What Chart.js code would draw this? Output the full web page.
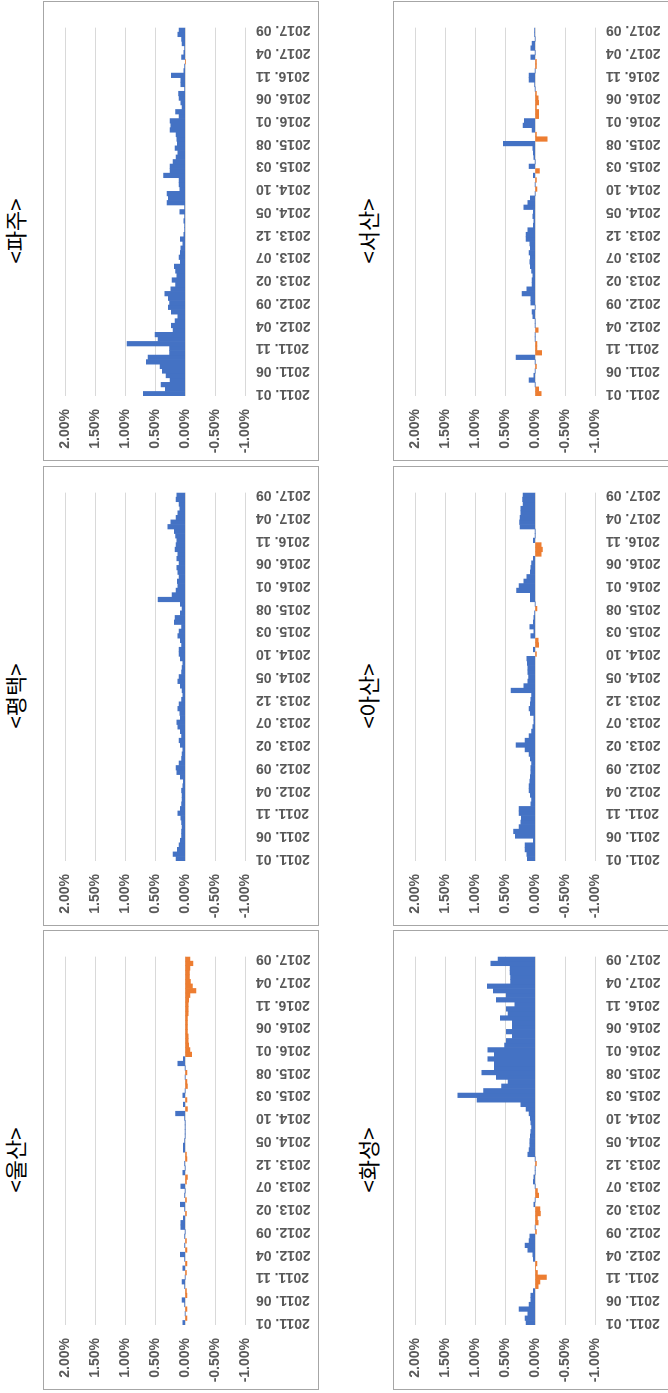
<!DOCTYPE html>
<html lang="ko">
<head>
<meta charset="utf-8">
<title>지역별 월간 변동률</title>
<script src="https://cdn.jsdelivr.net/npm/chart.js@4.4.1/dist/chart.umd.min.js"></script>
<style>
  html, body { margin: 0; padding: 0; background: #fff; }
  body { width: 668px; height: 1393px; overflow: hidden; position: relative; }
  /* the sheet is laid out landscape and turned a quarter turn to portrait */
  #stage {
    position: absolute; left: 0; top: 0;
    width: 1393px; height: 668px;
    transform-origin: 0 0;
    transform: translate(0, 1393px) rotate(-90deg);
  }
  .panel {
    position: absolute; width: 460px; height: 276px;
    border: 1px solid #a6a6a6; box-sizing: border-box; background: #fff;
  }
  .panel canvas { display: block; }
  .title {
    position: absolute; width: 460px; text-align: center;
    font-family: "Noto Sans CJK KR", "Noto Sans", sans-serif;
    font-size: 22px; line-height: 22px; color: #000;
  }
</style>
</head>
<body>
<div id="stage"></div>
<script>
// monthly change rates (%), 2011.01 – 2017.09
const ulsan = [
  0.04, -0.03, 0.00, -0.03, 0.01, 0.05, -0.03, -0.02, 0.01, 0.05,
  0.00, -0.02, 0.04, -0.03, 0.01, 0.08, -0.03, 0.01, -0.02, 0.01,
  0.00, 0.07, 0.07, 0.03, -0.02, 0.01, 0.08, -0.02, 0.01, 0.00,
  0.07, -0.02, -0.04, 0.04, 0.00, 0.01, -0.03, -0.02, 0.03, 0.03,
  0.01, 0.00, 0.00, 0.00, 0.00, 0.01, 0.16, -0.04, 0.03, -0.03,
  0.04, 0.00, -0.04, -0.03, 0.00, -0.03, 0.00, 0.12, 0.03, -0.11,
  -0.08, -0.06, -0.05, -0.05, -0.04, -0.04, -0.04, -0.04, -0.05, -0.05,
  -0.05, -0.06, -0.08, -0.18, -0.12, -0.09, -0.07, -0.07, -0.08, -0.13,
  -0.08
];
const pyeongtaek = [
  0.15, 0.20, 0.13, 0.10, 0.08, 0.06, 0.06, 0.05, 0.06, 0.07,
  0.12, 0.08, 0.06, 0.05, 0.05, 0.06, 0.04, 0.03, 0.08, 0.14,
  0.15, 0.10, 0.06, 0.05, 0.04, 0.08, 0.10, 0.06, 0.08, 0.12,
  0.14, 0.08, 0.09, 0.12, 0.10, 0.06, 0.04, 0.05, 0.08, 0.12,
  0.10, 0.06, 0.05, 0.04, 0.08, 0.10, 0.10, 0.06, 0.08, 0.12,
  0.10, 0.06, 0.18, 0.17, 0.08, 0.05, 0.08, 0.45, 0.22, 0.15,
  0.12, 0.13, 0.10, 0.12, 0.14, 0.10, 0.14, 0.12, 0.17, 0.15,
  0.14, 0.16, 0.18, 0.29, 0.24, 0.15, 0.12, 0.09, 0.10, 0.15,
  0.14
];
const paju = [
  0.70, 0.33, 0.40, 0.25, 0.32, 0.38, 0.42, 0.65, 0.62, 0.26,
  0.26, 0.97, 0.45, 0.50, 0.20, 0.23, 0.17, 0.12, 0.23, 0.28,
  0.26, 0.28, 0.34, 0.24, 0.16, 0.22, 0.14, 0.16, 0.18, 0.08,
  0.10, 0.08, 0.07, 0.04, 0.08, 0.02, 0.01, 0.01, 0.02, 0.01,
  0.09, 0.01, 0.30, 0.28, 0.30, 0.09, 0.10, 0.10, 0.36, 0.25,
  0.25, 0.20, 0.15, 0.12, 0.17, 0.13, 0.14, 0.15, 0.25, 0.24,
  0.25, 0.10, 0.16, 0.05, 0.07, 0.10, 0.11, 0.01, 0.07, 0.07,
  0.23, 0.02, 0.01, -0.01, 0.06, 0.02, 0.01, 0.05, 0.06, 0.12,
  0.10
];
const hwaseong = [
  0.15, 0.17, 0.12, 0.27, 0.10, 0.07, 0.07, 0.03, -0.05, -0.08,
  -0.19, -0.04, -0.01, -0.03, 0.03, 0.04, 0.12, 0.17, 0.10, 0.09,
  -0.02, 0.00, -0.05, -0.04, -0.09, -0.08, 0.02, 0.00, -0.06, -0.04,
  0.00, 0.03, 0.02, 0.00, 0.00, -0.02, 0.00, 0.12, 0.10, 0.09,
  0.09, 0.08, 0.07, 0.06, 0.07, 0.08, 0.10, 0.15, 0.24, 0.97,
  1.29, 0.86, 0.56, 0.45, 0.65, 0.89, 0.68, 0.68, 0.79, 0.68,
  0.79, 0.51, 0.48, 0.38, 0.48, 0.38, 0.38, 0.58, 0.45, 0.48,
  0.34, 0.65, 0.48, 0.70, 0.80, 0.41, 0.41, 0.42, 0.42, 0.74,
  0.62
];
const asan = [
  0.13, 0.14, 0.17, 0.17, 0.03, 0.33, 0.36, 0.27, 0.24, 0.23,
  0.27, 0.27, 0.07, 0.06, 0.08, 0.10, 0.10, 0.09, 0.08, 0.07,
  0.07, 0.06, 0.08, 0.10, 0.17, 0.32, 0.17, 0.10, 0.06, 0.04,
  0.02, 0.02, 0.08, 0.10, 0.08, 0.07, 0.06, 0.40, 0.19, 0.12,
  0.11, 0.12, 0.12, 0.13, 0.14, -0.02, 0.03, -0.06, -0.05, 0.07,
  0.02, 0.09, 0.03, 0.02, 0.01, -0.03, 0.00, 0.08, 0.08, 0.31,
  0.27, 0.19, 0.14, 0.08, 0.07, 0.06, 0.03, -0.10, -0.12, -0.10,
  0.03, 0.00, 0.00, 0.25, 0.26, 0.25, 0.24, 0.24, 0.20, 0.21,
  0.20
];
const seosan = [
  -0.10, -0.06, 0.00, 0.10, 0.02, 0.00, -0.02, 0.00, 0.32, -0.11,
  -0.03, -0.03, 0.00, 0.00, -0.05, 0.00, 0.00, 0.04, 0.05, 0.00,
  0.07, 0.07, 0.22, 0.14, 0.05, 0.05, 0.04, 0.06, 0.08, 0.09,
  0.08, 0.10, 0.08, 0.09, 0.15, 0.15, 0.12, 0.03, 0.02, 0.04,
  0.03, 0.19, 0.12, 0.08, 0.00, -0.03, 0.00, -0.02, 0.03, -0.07,
  0.10, 0.00, 0.02, 0.03, 0.04, 0.53, -0.20, -0.02, 0.05, 0.20,
  0.18, -0.06, -0.06, -0.02, -0.06, -0.05, -0.02, 0.00, 0.01, 0.10,
  0.10, 0.00, -0.02, -0.02, 0.07, 0.00, 0.07, 0.05, 0.00, 0.01,
  0.01
];

// category labels: "2011. 01" … "2017. 09"
const months = [];
for (let y = 2011; y <= 2017; y++) {
  for (let m = 1; m <= 12; m++) {
    if (y === 2017 && m > 9) break;
    months.push(y + '. ' + String(m).padStart(2, '0'));
  }
}
const yTicks = [2.0, 1.5, 1.0, 0.5, 0.0, -0.5, -1.0];

const regions = [
  { name: '<울산>', values: ulsan },
  { name: '<평택>', values: pyeongtaek },
  { name: '<파주>', values: paju },
  { name: '<화성>', values: hwaseong },
  { name: '<아산>', values: asan },
  { name: '<서산>', values: seosan }
];

const BLUE = '#4472C4';
const ORANGE = '#ED7D31';
const tickFont = { family: '"Liberation Sans", Arial, sans-serif', size: 14, weight: 'bold' };
const tickColor = '#595959';

// panel grid: 3 columns x 2 rows
const colLeft = [3, 467, 932];
const rowTop = [43, 393];
const titleTop = [3, 356];

const stage = document.getElementById('stage');

regions.forEach((r, k) => {
  const col = k % 3, row = Math.floor(k / 3);

  const title = document.createElement('div');
  title.className = 'title';
  title.style.left = colLeft[col] + 'px';
  title.style.top = titleTop[row] + 'px';
  title.textContent = r.name;
  stage.appendChild(title);

  const box = document.createElement('div');
  box.className = 'panel';
  box.style.left = colLeft[col] + 'px';
  box.style.top = rowTop[row] + 'px';
  const cv = document.createElement('canvas');
  cv.width = 458; cv.height = 274;
  box.appendChild(cv);
  stage.appendChild(box);

  new Chart(cv, {
    type: 'bar',
    data: {
      labels: months,
      datasets: [{
        data: r.values,
        backgroundColor: r.values.map(v => v >= 0 ? BLUE : ORANGE),
        borderWidth: 0,
        categoryPercentage: 1.0,
        barPercentage: 1.0
      }]
    },
    options: {
      responsive: false,
      animation: false,
      devicePixelRatio: 1,
      layout: { padding: { top: 14, right: 14, left: 0, bottom: 0 } },
      plugins: { legend: { display: false }, tooltip: { enabled: false } },
      scales: {
        x: {
          grid: { display: false, drawTicks: false },
          border: { display: false },
          ticks: {
            autoSkip: false,
            minRotation: 90,
            maxRotation: 90,
            padding: 11,
            font: tickFont,
            color: tickColor,
            callback(v, i) { return i % 5 === 0 ? this.getLabelForValue(v) : null; }
          },
          afterFit(s) { s.height = 73; }
        },
        y: {
          min: yTicks[yTicks.length - 1],
          max: yTicks[0],
          afterBuildTicks(s) { s.ticks = yTicks.map(v => ({ value: v })); },
          grid: { color: '#d9d9d9', lineWidth: 1, drawTicks: false },
          border: { display: false },
          ticks: {
            padding: 13,
            font: tickFont,
            color: tickColor,
            callback: v => Number(v).toFixed(2) + '%'
          },
          afterFit(s) { s.width = 64; }
        }
      }
    }
  });
});
</script>
</body>
</html>
